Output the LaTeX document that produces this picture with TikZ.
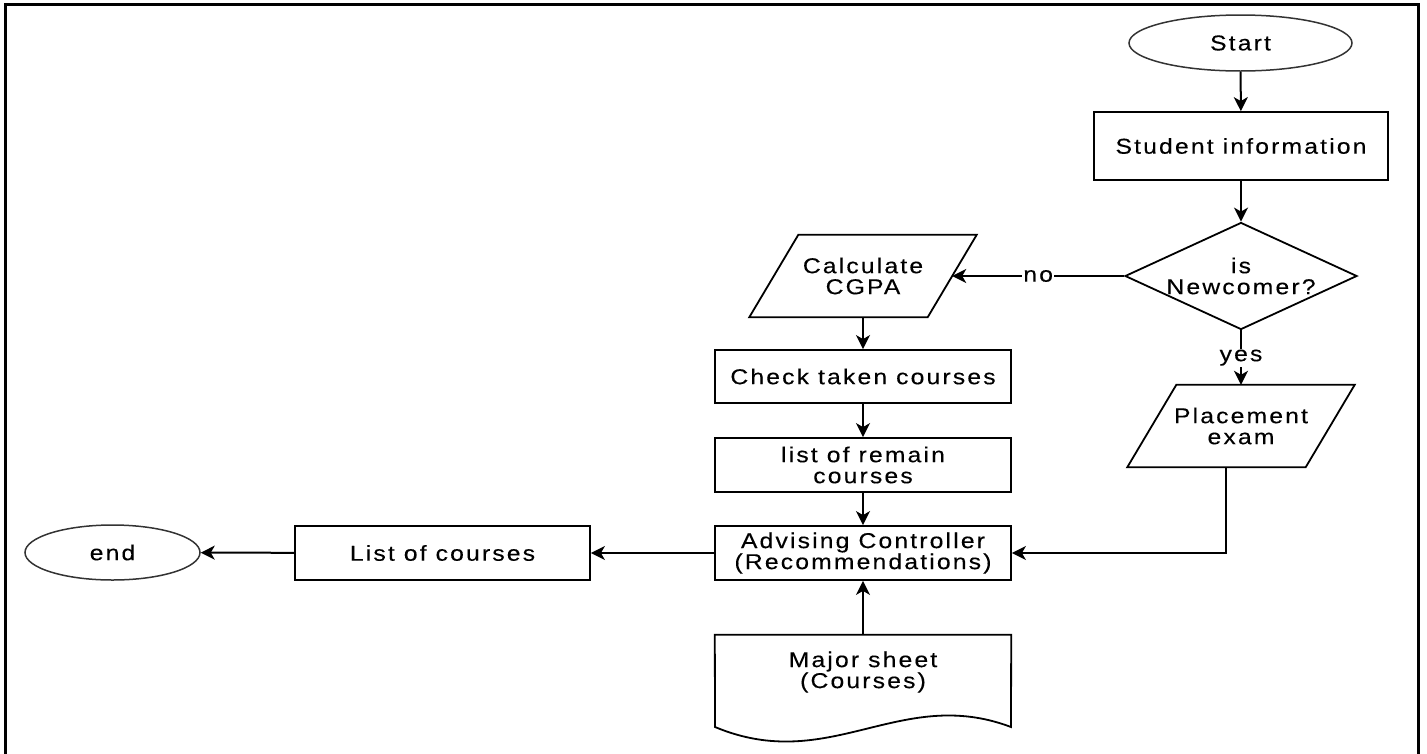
\documentclass[tikz,border=0pt]{standalone}
\usepackage{fontspec}
\setmainfont{Liberation Sans}[FakeStretch=1.15,LetterSpace=10,FakeBold=0.25]
\usetikzlibrary{shapes.geometric,arrows.meta}
\begin{document}
\begin{tikzpicture}[x=1pt,y=-1pt,
  every node/.style={font=\fontsize{21.5}{21}\selectfont, align=center, inner sep=0pt},
  box/.style={draw, line width=1.8pt, rectangle, minimum width=296pt, minimum height=54pt},
  term/.style={draw=black!80, line width=1.5pt, ellipse},
  io/.style={rectangle, minimum width=178pt, minimum height=82pt},
  outline/.style={line width=1.8pt, line join=miter},
  arr/.style={line width=2pt, -{Stealth[length=14pt,width=14pt,inset=4pt]}},
  lbl/.style={fill=white, inner sep=1pt}
]
\useasboundingbox (0,0) rectangle (1427,753);
\draw[line width=3pt] (5,760) -- (5,4) -- (1418,4) -- (1418,760);

\node[term, minimum width=223pt, minimum height=56pt] (start) at (1240.5,43) {Start};
\node[box, minimum width=294pt, minimum height=68pt] (info) at (1241,146) {Student information};
\node[draw, diamond, aspect=2.17, line width=1.8pt, minimum width=232pt, minimum height=107pt] (newc) at (1241,276) {is\\Newcomer?};

\node[io] (cgpa) at (863,276) {Calculate\\CGPA};
\draw[outline] ([xshift=24.5pt]cgpa.north west) -- ([xshift=24.5pt]cgpa.north east) -- ([xshift=-24.5pt]cgpa.south east) -- ([xshift=-24.5pt]cgpa.south west) -- cycle;

\node[box, minimum height=53pt] (check) at (863,376.5) {Check taken courses};
\node[box] (remain) at (863,465) {list of remain\\courses};
\node[box] (adv) at (863,553) {Advising Controller\\(Recommendations)};
\node[box, minimum width=295pt] (list) at (442.5,553) {List of courses};
\node[term, minimum width=175pt, minimum height=55pt] (end) at (112.5,552.5) {end};

\node[io] (place) at (1241,426) {Placement\\exam};
\draw[outline] ([xshift=24.5pt]place.north west) -- ([xshift=24.5pt]place.north east) -- ([xshift=-24.5pt]place.south east) -- ([xshift=-24.5pt]place.south west) -- cycle;

\node[minimum width=296pt, minimum height=74pt] (major) at (863,672) {Major sheet\\(Courses)};
\draw[outline] (major.north west) -- (major.north east) -- (1011,727) .. controls (900,685) and (830,775) .. (715,727) -- cycle;

\draw[arr] (start) -- (info);
\draw[arr] (info) -- (newc);
\draw[arr] (newc.west) -- node[lbl]{no} (cgpa.east);
\draw[arr] (newc.south) -- node[lbl]{yes} (place.north);
\draw[arr] (cgpa.south) -- (check.north);
\draw[arr] (check) -- (remain);
\draw[arr] (remain) -- (adv);
\draw[arr] ([xshift=-15pt]place.south) |- (adv.east);
\draw[arr] (major.north) -- (adv.south);
\draw[arr] (adv) -- (list);
\draw[arr] (list) -- (end);
\end{tikzpicture}
\end{document}
